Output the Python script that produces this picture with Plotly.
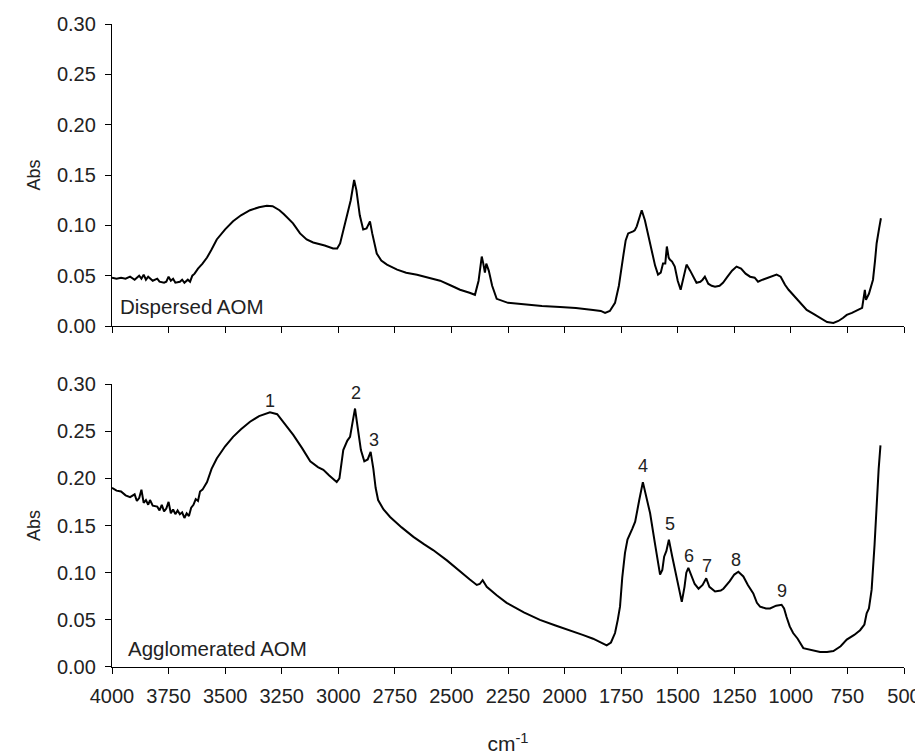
import plotly.graph_objects as go

# Dispersed AOM (top panel)
disp_x = [4000, 3980, 3960, 3940, 3920, 3900, 3880, 3870, 3860, 3850, 3840, 3820, 3800, 3790, 3770, 3760,
          3750, 3740, 3730, 3720, 3700, 3690, 3680, 3665, 3655, 3645, 3635, 3620, 3600, 3580, 3560, 3537,
          3500, 3465, 3430, 3390, 3350, 3316, 3290, 3260, 3240, 3200, 3169, 3140, 3111, 3060, 3023, 3005,
          2992, 2975, 2962, 2945, 2930, 2920, 2905, 2890, 2875, 2860, 2850, 2830, 2810, 2785, 2740, 2700,
          2652, 2600, 2550, 2500, 2462, 2420, 2396, 2380, 2366, 2360, 2352, 2346, 2335, 2320, 2300, 2250,
          2168, 2100, 2020, 1950, 1874, 1840, 1821, 1800, 1777, 1760, 1741, 1730, 1719, 1705, 1697, 1690,
          1681, 1670, 1659, 1645, 1622, 1600, 1587, 1575, 1565, 1555, 1548, 1540, 1535, 1525, 1513, 1500,
          1487, 1475, 1461, 1445, 1430, 1417, 1400, 1390, 1380, 1365, 1350, 1335, 1315, 1300, 1280, 1260,
          1240, 1220, 1200, 1180, 1160, 1145, 1125, 1101, 1080, 1063, 1045, 1026, 1010, 990, 960, 930,
          900, 871, 840, 812, 790, 770, 753, 730, 702, 685, 673, 668, 655, 637, 628, 621, 610, 602]
disp_y = [0.048, 0.047, 0.048, 0.047, 0.049, 0.046, 0.050, 0.047, 0.051, 0.046, 0.049, 0.045, 0.047, 0.044, 0.043, 0.044,
          0.049, 0.045, 0.047, 0.043, 0.044, 0.046, 0.043, 0.046, 0.044, 0.050, 0.052, 0.057, 0.062, 0.068, 0.076, 0.086,
          0.096, 0.104, 0.110, 0.115, 0.118, 0.1195, 0.119, 0.115, 0.111, 0.102, 0.092, 0.086, 0.083, 0.080, 0.077, 0.077,
          0.082, 0.098, 0.112, 0.125, 0.145, 0.135, 0.110, 0.096, 0.097, 0.104, 0.092, 0.072, 0.065, 0.061, 0.056, 0.053,
          0.051, 0.048, 0.045, 0.040, 0.036, 0.033, 0.031, 0.045, 0.069, 0.063, 0.053, 0.062, 0.055, 0.040, 0.027, 0.023,
          0.021, 0.020, 0.019, 0.018, 0.016, 0.015, 0.013, 0.015, 0.023, 0.040, 0.069, 0.085, 0.092, 0.093, 0.094, 0.095,
          0.099, 0.107, 0.115, 0.105, 0.082, 0.060, 0.051, 0.053, 0.062, 0.062, 0.079, 0.068, 0.066, 0.064, 0.059, 0.045,
          0.036, 0.048, 0.061, 0.055, 0.048, 0.043, 0.044, 0.046, 0.049, 0.042, 0.040, 0.039, 0.040, 0.043, 0.049, 0.055,
          0.059, 0.057, 0.052, 0.049, 0.048, 0.044, 0.046, 0.048, 0.049, 0.051, 0.049, 0.041, 0.036, 0.031, 0.024, 0.016,
          0.012, 0.008, 0.004, 0.003, 0.005, 0.008, 0.011, 0.013, 0.016, 0.018, 0.036, 0.026, 0.032, 0.046, 0.065, 0.082, 0.097, 0.107]

# Agglomerated AOM (bottom panel)
aggl_x = [4000, 3980, 3960, 3940, 3920, 3900, 3890, 3880, 3870, 3860, 3850, 3840, 3832, 3820, 3800, 3790,
          3780, 3770, 3760, 3750, 3740, 3730, 3720, 3710, 3700, 3690, 3680, 3670, 3660, 3650, 3640, 3630,
          3620, 3611, 3600, 3580, 3560, 3537, 3500, 3465, 3430, 3390, 3350, 3302, 3270, 3243, 3199, 3160,
          3124, 3090, 3066, 3040, 3007, 2995, 2978, 2960, 2948, 2935, 2926, 2915, 2900, 2885, 2870, 2857,
          2845, 2835, 2824, 2800, 2771, 2720, 2668, 2620, 2581, 2520, 2462, 2420, 2388, 2375, 2362, 2352,
          2344, 2300, 2256, 2180, 2109, 2040, 1976, 1920, 1874, 1840, 1814, 1795, 1777, 1765, 1755, 1745,
          1733, 1722, 1711, 1700, 1688, 1680, 1670, 1654, 1640, 1622, 1600, 1578, 1568, 1560, 1550, 1539,
          1525, 1511, 1495, 1482, 1470, 1462, 1453, 1440, 1425, 1408, 1390, 1374, 1360, 1335, 1310, 1298,
          1270, 1250, 1232, 1210, 1190, 1166, 1150, 1136, 1110, 1092, 1065, 1041, 1030, 1019, 1005, 990,
          970, 945, 910, 871, 840, 812, 780, 753, 720, 694, 675, 665, 655, 643, 630, 621, 612, 604]
aggl_y = [0.190, 0.187, 0.186, 0.182, 0.180, 0.183, 0.176, 0.179, 0.188, 0.174, 0.177, 0.172, 0.177, 0.171, 0.170, 0.166,
          0.172, 0.165, 0.168, 0.175, 0.163, 0.167, 0.162, 0.166, 0.162, 0.164, 0.158, 0.163, 0.160, 0.169, 0.172, 0.178,
          0.176, 0.186, 0.188, 0.196, 0.210, 0.221, 0.234, 0.244, 0.252, 0.260, 0.266, 0.270, 0.268, 0.260, 0.246, 0.232,
          0.218, 0.212, 0.209, 0.203, 0.196, 0.200, 0.230, 0.240, 0.244, 0.262, 0.274, 0.255, 0.230, 0.218, 0.220, 0.228,
          0.210, 0.190, 0.177, 0.167, 0.159, 0.148, 0.138, 0.130, 0.124, 0.113, 0.101, 0.093, 0.087, 0.088, 0.092, 0.088,
          0.085, 0.076, 0.068, 0.058, 0.050, 0.044, 0.039, 0.034, 0.030, 0.026, 0.023, 0.026, 0.036, 0.050, 0.064, 0.095,
          0.121, 0.135, 0.142, 0.147, 0.154, 0.165, 0.177, 0.196, 0.182, 0.163, 0.130, 0.098, 0.103, 0.117, 0.123, 0.135,
          0.118, 0.103, 0.085, 0.069, 0.085, 0.100, 0.105, 0.097, 0.088, 0.083, 0.087, 0.094, 0.085, 0.080, 0.081, 0.083,
          0.091, 0.098, 0.101, 0.096, 0.087, 0.078, 0.068, 0.064, 0.062, 0.062, 0.065, 0.066, 0.062, 0.053, 0.043, 0.036,
          0.030, 0.020, 0.018, 0.016, 0.016, 0.017, 0.022, 0.029, 0.034, 0.039, 0.045, 0.057, 0.062, 0.082, 0.130, 0.177, 0.210, 0.235]

# Peak labels (bottom panel)
peak_labels = ["1", "2", "3", "4", "5", "6", "7", "8", "9"]
peak_x = [3302, 2922, 2842, 1652, 1535, 1448, 1371, 1243, 1041]
peak_y = [0.282, 0.290, 0.241, 0.213, 0.152, 0.118, 0.107, 0.113, 0.081]

x_ticks = [4000, 3750, 3500, 3250, 3000, 2750, 2500, 2250, 2000, 1750, 1500, 1250, 1000, 750, 500]
y_ticks = [0.00, 0.05, 0.10, 0.15, 0.20, 0.25, 0.30]

FONT = "Liberation Sans, Arial, sans-serif"
TXT = "#222"

fig = go.Figure()
fig.add_trace(go.Scatter(x=disp_x, y=disp_y, mode="lines", line=dict(color="black", width=2),
                         xaxis="x", yaxis="y", showlegend=False))
fig.add_trace(go.Scatter(x=aggl_x, y=aggl_y, mode="lines", line=dict(color="black", width=2),
                         xaxis="x2", yaxis="y2", showlegend=False))

axis_common = dict(showline=True, linecolor="black", linewidth=1.3, ticks="outside", ticklen=6,
                   tickcolor="black", tickwidth=1.3, showgrid=False, zeroline=False, automargin=False,
                   ticklabelstandoff=5,
                   tickfont=dict(family=FONT, size=20, color=TXT))

# page body has an 8px margin, so the figure is 915x748 and offset by 8px
fig.update_layout(
    width=915, height=748,
    paper_bgcolor="white", plot_bgcolor="white",
    margin=dict(l=104, r=19, t=16, b=89),
    xaxis=dict(range=[4000, 500], tickvals=x_ticks, showticklabels=False, anchor="y",
               domain=[0, 1], **axis_common),
    yaxis=dict(range=[0, 0.30], tickvals=y_ticks, tickformat=".2f", domain=[0.5303, 1], anchor="x",
               title=dict(text="Abs", font=dict(family=FONT, size=18, color=TXT), standoff=11),
               **axis_common),
    xaxis2=dict(range=[4000, 500], tickvals=x_ticks, anchor="y2", domain=[0, 1],
                title=dict(text="cm<sup>-1</sup>", font=dict(family=FONT, size=21, color=TXT), standoff=30),
                **axis_common),
    yaxis2=dict(range=[0, 0.30], tickvals=y_ticks, tickformat=".2f", domain=[0, 0.4401], anchor="x2",
                title=dict(text="Abs", font=dict(family=FONT, size=18, color=TXT), standoff=11),
                **axis_common),
)

annotations = [
    dict(x=3975, y=0.019, xref="x", yref="y", text="Dispersed AOM", showarrow=False,
         xanchor="left", yanchor="middle", font=dict(family=FONT, size=20.5, color=TXT)),
    dict(x=3940, y=0.020, xref="x2", yref="y2", text="Agglomerated AOM", showarrow=False,
         xanchor="left", yanchor="middle", font=dict(family=FONT, size=20.5, color=TXT)),
]
for t, px, py in zip(peak_labels, peak_x, peak_y):
    annotations.append(dict(x=px, y=py, xref="x2", yref="y2", text=t, showarrow=False,
                            xanchor="center", yanchor="middle",
                            font=dict(family=FONT, size=18, color=TXT)))
fig.update_layout(annotations=annotations)

fig.write_html("out.html")
